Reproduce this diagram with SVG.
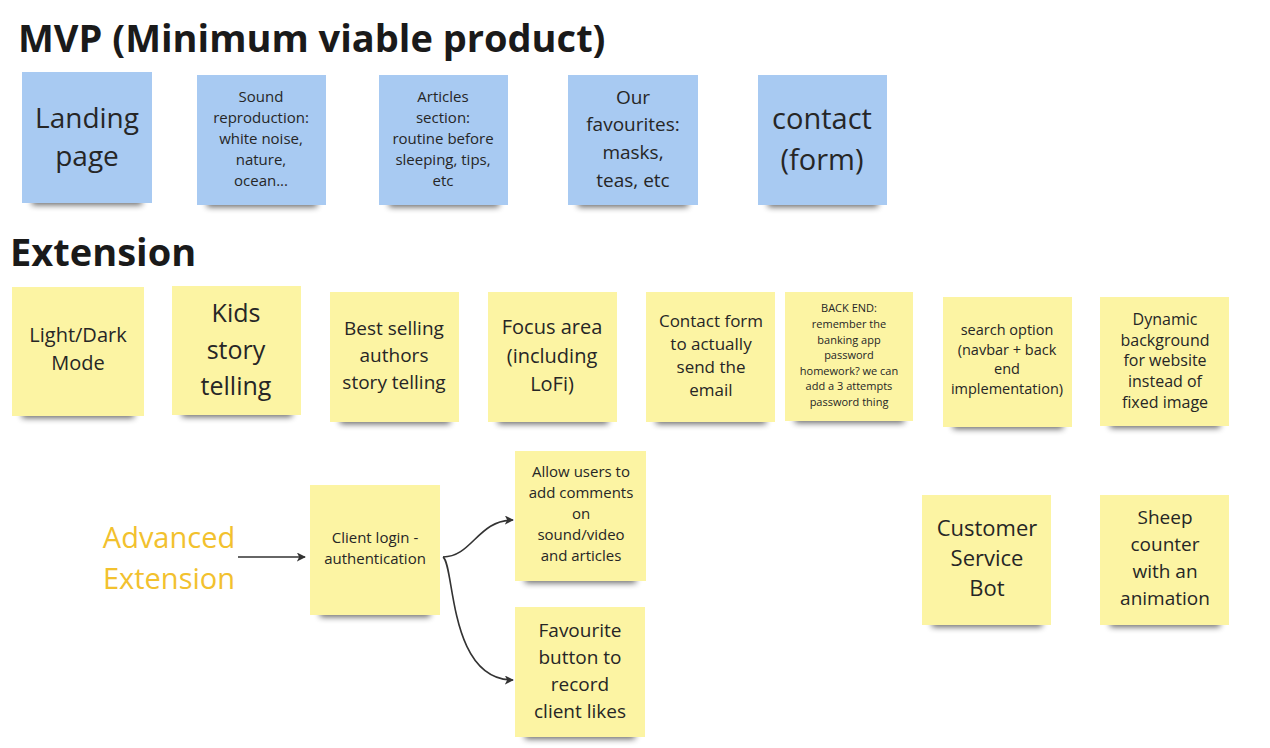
<svg xmlns="http://www.w3.org/2000/svg" width="1270" height="748" viewBox="0 0 1270 748">
<defs>
<filter id="sh" x="-20%" y="-200%" width="140%" height="500%"><feGaussianBlur stdDeviation="3"/></filter>
<marker id="ah" viewBox="0 0 10 10" refX="9" refY="5" markerWidth="9" markerHeight="9" markerUnits="userSpaceOnUse" orient="auto"><path d="M0,0 L10,5 L0,10 L2.5,5 Z" fill="#333"/></marker>
<style>
.shadow{fill:#000;opacity:.6;filter:url(#sh)}
.blue{fill:#a8caf2}
.yel{fill:#fcf4a3}
text{font-family:"Open Sans","Noto Sans","Liberation Sans",sans-serif;fill:#262626;text-anchor:middle}
.title{font-weight:bold;text-anchor:start;fill:#1a1a1a}
.adv{fill:#f2c12e}
.conn{fill:none;stroke:#333;stroke-width:1.6;marker-end:url(#ah)}
</style>
</defs>
<rect width="1270" height="748" fill="#fff"/>
<text class="title" x="18" y="52" font-size="38">MVP (Minimum viable product)</text>
<text class="title" x="10" y="266" font-size="38">Extension</text>

<g id="landing"><rect class="shadow" x="32" y="196" width="110" height="9"/><rect class="blue" x="22" y="72" width="130" height="131"/>
<text font-size="28"><tspan x="87" y="128">Landing</tspan><tspan x="87" y="166">page</tspan></text></g>
<g id="sound"><rect class="shadow" x="207" y="198" width="110" height="9"/><rect class="blue" x="197" y="75" width="129" height="130"/>
<text font-size="15"><tspan x="261" y="102">Sound</tspan><tspan x="261" y="123">reproduction:</tspan><tspan x="261" y="144">white noise,</tspan><tspan x="261" y="165">nature,</tspan><tspan x="261" y="186">ocean...</tspan></text></g>
<g id="articles"><rect class="shadow" x="389" y="198" width="110" height="9"/><rect class="blue" x="379" y="75" width="129" height="130"/>
<text font-size="15"><tspan x="443" y="102">Articles</tspan><tspan x="443" y="123">section:</tspan><tspan x="443" y="144">routine before</tspan><tspan x="443" y="165">sleeping, tips,</tspan><tspan x="443" y="186">etc</tspan></text></g>
<g id="favourites"><rect class="shadow" x="578" y="198" width="110" height="9"/><rect class="blue" x="568" y="75" width="130" height="130"/>
<text font-size="19"><tspan x="633" y="104">Our</tspan><tspan x="633" y="131">favourites:</tspan><tspan x="633" y="159">masks,</tspan><tspan x="633" y="187">teas, etc</tspan></text></g>
<g id="contact"><rect class="shadow" x="768" y="198" width="110" height="9"/><rect class="blue" x="758" y="75" width="129" height="130"/>
<text font-size="29"><tspan x="822" y="129">contact</tspan><tspan x="822" y="170">(form)</tspan></text></g>

<g id="lightdark"><rect class="shadow" x="22" y="409" width="112" height="9"/><rect class="yel" x="12" y="287" width="132" height="129"/>
<text font-size="20"><tspan x="78" y="342">Light/Dark</tspan><tspan x="78" y="370">Mode</tspan></text></g>
<g id="kids"><rect class="shadow" x="182" y="408" width="110" height="9"/><rect class="yel" x="172" y="286" width="129" height="129"/>
<text font-size="25"><tspan x="236" y="322">Kids</tspan><tspan x="236" y="359">story</tspan><tspan x="236" y="395">telling</tspan></text></g>
<g id="bestselling"><rect class="shadow" x="340" y="415" width="110" height="9"/><rect class="yel" x="330" y="292" width="129" height="130"/>
<text font-size="19"><tspan x="394" y="335">Best selling</tspan><tspan x="394" y="362">authors</tspan><tspan x="394" y="389">story telling</tspan></text></g>
<g id="focus"><rect class="shadow" x="498" y="415" width="110" height="9"/><rect class="yel" x="488" y="292" width="129" height="130"/>
<text font-size="20"><tspan x="552" y="334">Focus area</tspan><tspan x="552" y="363">(including</tspan><tspan x="552" y="391">LoFi)</tspan></text></g>
<g id="contactform"><rect class="shadow" x="656" y="415" width="110" height="9"/><rect class="yel" x="646" y="292" width="129" height="130"/>
<text font-size="17"><tspan x="711" y="327">Contact form</tspan><tspan x="711" y="350">to actually</tspan><tspan x="711" y="373">send the</tspan><tspan x="711" y="396">email</tspan></text></g>
<g id="backend"><rect class="shadow" x="795" y="414" width="109" height="9"/><rect class="yel" x="785" y="292" width="128" height="129"/>
<text font-size="11"><tspan x="849" y="312">BACK END:</tspan><tspan x="849" y="328">remember the</tspan><tspan x="849" y="344">banking app</tspan><tspan x="849" y="359">password</tspan><tspan x="849" y="375">homework? we can</tspan><tspan x="849" y="390">add a 3 attempts</tspan><tspan x="849" y="406">password thing</tspan></text></g>
<g id="search"><rect class="shadow" x="953" y="420" width="110" height="9"/><rect class="yel" x="943" y="297" width="129" height="130"/>
<text font-size="14.5"><tspan x="1007" y="335">search option</tspan><tspan x="1007" y="355">(navbar + back</tspan><tspan x="1007" y="374">end</tspan><tspan x="1007" y="394">implementation)</tspan></text></g>
<g id="dynamic"><rect class="shadow" x="1110" y="419" width="110" height="9"/><rect class="yel" x="1100" y="297" width="129" height="129"/>
<text font-size="16"><tspan x="1165" y="325">Dynamic</tspan><tspan x="1165" y="346">background</tspan><tspan x="1165" y="366">for website</tspan><tspan x="1165" y="387">instead of</tspan><tspan x="1165" y="408">fixed image</tspan></text></g>

<g id="advanced"><text class="adv" font-size="29"><tspan x="169" y="548">Advanced</tspan><tspan x="169" y="589">Extension</tspan></text></g>
<g id="clientlogin"><rect class="shadow" x="320" y="608" width="110" height="9"/><rect class="yel" x="310" y="485" width="130" height="130"/>
<text font-size="15"><tspan x="375" y="543">Client login -</tspan><tspan x="375" y="564">authentication</tspan></text></g>
<g id="comments"><rect class="shadow" x="525" y="574" width="111" height="9"/><rect class="yel" x="515" y="451" width="131" height="130"/>
<text font-size="15"><tspan x="581" y="477">Allow users to</tspan><tspan x="581" y="498">add comments</tspan><tspan x="581" y="519">on</tspan><tspan x="581" y="540">sound/video</tspan><tspan x="581" y="561">and articles</tspan></text></g>
<g id="favbutton"><rect class="shadow" x="525" y="730" width="110" height="9"/><rect class="yel" x="515" y="607" width="130" height="130"/>
<text font-size="19"><tspan x="580" y="637">Favourite</tspan><tspan x="580" y="664">button to</tspan><tspan x="580" y="691">record</tspan><tspan x="580" y="718">client likes</tspan></text></g>
<g id="bot"><rect class="shadow" x="932" y="618" width="110" height="9"/><rect class="yel" x="922" y="495" width="129" height="130"/>
<text font-size="22"><tspan x="987" y="536">Customer</tspan><tspan x="987" y="566">Service</tspan><tspan x="987" y="596">Bot</tspan></text></g>
<g id="sheep"><rect class="shadow" x="1110" y="618" width="110" height="9"/><rect class="yel" x="1100" y="495" width="129" height="130"/>
<text font-size="19"><tspan x="1165" y="524">Sheep</tspan><tspan x="1165" y="551">counter</tspan><tspan x="1165" y="578">with an</tspan><tspan x="1165" y="605">animation</tspan></text></g>

<g id="connectors">
<path class="conn" d="M238 557 L305 557"/>
<path class="conn" d="M443 557 C472 557 478 520 513 520"/>
<path class="conn" d="M443 557 C455 565 448 680 513 680"/>
</g>
</svg>
